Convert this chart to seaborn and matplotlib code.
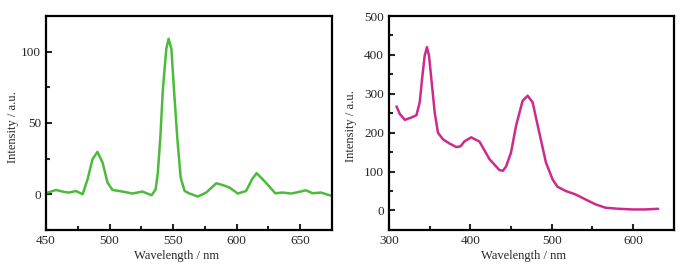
import pandas as pd
import seaborn as sns
import matplotlib.pyplot as plt
from matplotlib.ticker import MultipleLocator

# emission spectrum (left)
em_wl = [451.3, 457.8, 464.4, 468.3, 473.5, 478.8, 482.7, 486.6, 490.5, 494.5, 498.4,
         502.3, 510.2, 518, 525.9, 533.2, 536.3, 538, 540, 542, 544.7, 546.5, 548.7,
         550.7, 553.4, 556, 559.1, 563, 569.5, 576.1, 584, 589, 594.4, 601, 607.5,
         612.2, 615.8, 620.6, 625.3, 630.5, 636.3, 642.9, 648.5, 654.6, 659.8, 666.4,
         672.4, 675]
em_int = [1.2, 3, 1.6, 1.2, 2.3, 0, 10.5, 24.6, 29.7, 22.3, 8.2,
          3, 1.9, 0.5, 1.9, -0.7, 3.5, 15, 40, 73.8, 102, 109, 102,
          73.8, 38.7, 11.7, 2.3, 0.5, -1.6, 1.2, 7.7, 6.5, 4.7, 0.5, 2.3,
          10.5, 14.8, 10.5, 5.9, 0.7, 1.2, 0.5, 1.5, 2.8, 0.7, 1.2,
          -0.5, -1]

# excitation spectrum (right)
ex_wl = [309.4, 313.5, 319.6, 327.7, 333.9, 337.9, 340.8, 344, 346.8, 349.3, 352.2,
         356.3, 360.3, 366.4, 374.6, 382.8, 388, 393, 401.1, 411.3, 423.5, 435.7, 440,
         443.9, 450, 456.2, 464.2, 470.4, 476.5, 484.7, 492.9, 501, 507, 517.3, 529.5,
         541.7, 554, 566, 582.5, 598.8, 615, 630.6]
ex_int = [267.7, 248, 233, 239, 245, 278, 338, 398, 420, 398, 338,
          252, 200, 183, 172, 163, 165, 178, 188, 177, 132, 104, 102,
          113, 149, 218, 282, 295, 278, 200, 123, 80, 61, 50, 41,
          28, 15.5, 7, 4.3, 2.6, 2.6, 4.3]


def style_axis(ax, xmajor, ymajor):
    ax.xaxis.set_major_locator(MultipleLocator(xmajor))
    ax.xaxis.set_minor_locator(MultipleLocator(xmajor / 2))
    ax.yaxis.set_major_locator(MultipleLocator(ymajor))
    ax.yaxis.set_minor_locator(MultipleLocator(ymajor / 2))
    ax.tick_params(which='both', direction='in', width=1.5, labelsize=9.5)
    ax.tick_params(which='major', length=4)
    ax.tick_params(which='minor', length=3)
    for s in ax.spines.values():
        s.set_linewidth(1.6)
        s.set_color('black')
    ax.set_xlabel('Wavelength / nm', fontsize=9)
    ax.set_ylabel('Intensity / a.u.', fontsize=9)


def main():
    sns.set_style('ticks')
    plt.rcParams['font.family'] = ['Liberation Serif', 'DejaVu Serif']

    fig = plt.figure(figsize=(6.87, 2.76), dpi=100)
    ax1 = fig.add_axes([0.067, 0.167, 0.416, 0.775])
    ax2 = fig.add_axes([0.566, 0.167, 0.415, 0.775])

    em = pd.DataFrame({'wl': em_wl, 'I': em_int})
    ex = pd.DataFrame({'wl': ex_wl, 'I': ex_int})

    sns.lineplot(data=em, x='wl', y='I', ax=ax1, color='#4cbb3c', linewidth=1.8)
    sns.lineplot(data=ex, x='wl', y='I', ax=ax2, color='#cc2a8c', linewidth=1.8)

    ax1.set_xlim(450, 675)
    ax1.set_ylim(-25, 125)
    style_axis(ax1, 50, 50)
    ax1.xaxis.set_label_coords(0.456, -0.095)
    ax1.yaxis.set_label_coords(-0.094, 0.48)

    ax2.set_xlim(300, 650)
    ax2.set_ylim(-50, 500)
    style_axis(ax2, 100, 100)
    ax2.xaxis.set_label_coords(0.474, -0.095)
    ax2.yaxis.set_label_coords(-0.112, 0.484)

    fig.savefig('out.png', dpi=100)


if __name__ == '__main__':
    main()
